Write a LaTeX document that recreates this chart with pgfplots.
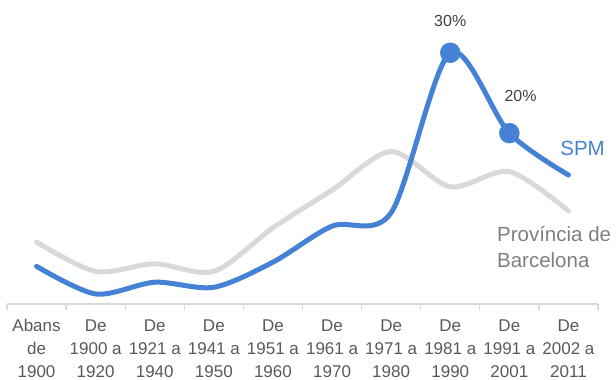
\documentclass[border=0pt]{standalone}
\usepackage{pgfplots}
\pgfplotsset{compat=1.18}
\usepackage{fontspec}
\setmainfont{Liberation Sans}
\definecolor{spmblue}{HTML}{4582D5}
\definecolor{provgray}{HTML}{D9D9D9}
\definecolor{labgray}{HTML}{7F7F7F}
\definecolor{txtgray}{HTML}{595959}
\definecolor{numgray}{HTML}{404040}

\begin{document}
\begin{tikzpicture}[x=1pt,y=1pt]
\useasboundingbox (0,0) rectangle (616,380);
\begin{axis}[
    at={(7pt,76pt)}, anchor=south west,
    scale only axis, width=591pt, height=304pt,
    xmin=-0.5, xmax=9.5, ymin=0, ymax=36.3,
    clip=false,
    axis y line=none,
    axis x line*=bottom,
    x axis line style={-, draw=provgray, line width=1.3pt},
    xtick={0,...,9},
    major tick length=0pt,
    xticklabels={Abans\\de\\1900, De\\1900 a\\1920, De\\1921 a\\1940,
      De\\1941 a\\1950, De\\1951 a\\1960, De\\1961 a\\1970, De\\1971 a\\1980,
      De\\1981 a\\1990, De\\1991 a\\2001, De\\2002 a\\2011},
    xticklabel style={align=center, font=\fontsize{17}{23}\selectfont,
      text=txtgray, yshift=-12pt},
    extra x ticks={-0.5,0.5,...,9.5},
    extra x tick labels={},
    extra x tick style={major tick length=6pt, tick align=outside,
      tick style={draw=provgray, line width=1.3pt}},
  ]
  % Provincia de Barcelona
  \addplot[provgray, line width=5pt, smooth, tension=0.5, line cap=round, no marks]
    coordinates {(0,7.4) (1,3.9) (2,4.8) (3,3.9) (4,9.1) (5,13.6)
                 (6,18.2) (7,14.0) (8,15.8) (9,11.1)};
  % SPM
  \addplot[spmblue, line width=5pt, smooth, tension=0.5, line cap=round, no marks]
    coordinates {(0,4.5) (1,1.2) (2,2.6) (3,2.0) (4,5.0) (5,9.3)
                 (6,10.9) (7,30.0) (8,20.4) (9,15.4)};
  \addplot[only marks, mark=*, mark size=10pt, spmblue]
    coordinates {(7,30.0) (8,20.4)};
  \node[text=numgray, font=\fontsize{16}{18}\selectfont] at (axis cs:7,33.8) {30\%};
  \node[text=numgray, font=\fontsize{16}{18}\selectfont] at (axis cs:8.19,24.8) {20\%};
  \node[text=spmblue, font=\fontsize{20.5}{24}\selectfont, anchor=west, inner sep=0pt]
    at (axis cs:8.86,18.6) {SPM};
  \node[text=labgray, font=\fontsize{20.5}{26}\selectfont, align=left, anchor=west, inner sep=0pt]
    at (axis cs:7.79,6.8) {Província de\\Barcelona};
\end{axis}
\end{tikzpicture}
\end{document}
